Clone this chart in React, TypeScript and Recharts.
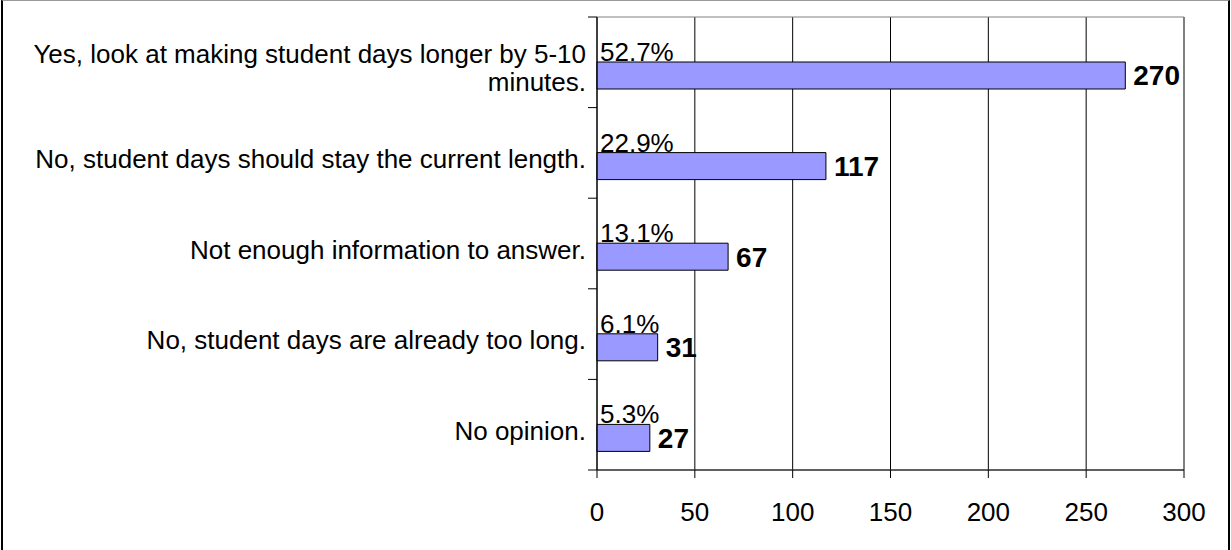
import React from 'react';
import { BarChart, Bar, XAxis, YAxis, CartesianGrid, LabelList, ReferenceArea } from 'recharts';

const categories = [
  'Yes, look at making student days longer by 5-10\nminutes.',
  'No, student days should stay the current length.',
  'Not enough information to answer.',
  'No, student days are already too long.',
  'No opinion.',
];
const counts = [270, 117, 67, 31, 27];
const percents = [52.7, 22.9, 13.1, 6.1, 5.3];
const xTicks = [0, 50, 100, 150, 200, 250, 300];

const data = categories.map((name, i) => ({ name, count: counts[i], pct: percents[i] }));

const FONT = '"Liberation Sans", Arial, Helvetica, sans-serif';
const FS = 26;

const CategoryTick = (props: any) => {
  const { x, y, payload, index, visibleTicksCount } = props;
  const lines = String(payload.value).split('\n');
  const lineH = 28;
  const off = payload.offset ?? 0;
  const isLast = index === (visibleTicksCount ?? 0) - 1;
  return (
    <g>
      <line x1={x + 2} x2={x + 11} y1={y - off} y2={y - off} stroke="#000" />
      {isLast && <line x1={x + 2} x2={x + 11} y1={y + off} y2={y + off} stroke="#000" />}
      <text x={x} y={y} textAnchor="end" fontSize={FS} fill="#000" fontFamily={FONT}>
        {lines.map((l, i) => (
          <tspan key={i} x={x} dy={i === 0 ? 15 - ((lines.length - 1) * lineH) / 2 : lineH}>
            {l}
          </tspan>
        ))}
      </text>
    </g>
  );
};

const PctLabel = (props: any) => {
  const { x, y, height, value } = props;
  return (
    <text x={x + 3} y={y + height - 1} fontSize={FS} fill="#000" fontFamily={FONT}>
      {Number(value).toFixed(1)}%
    </text>
  );
};

export default function App() {
  return (
    <div style={{ position: 'relative', width: 1231, height: 550, fontFamily: FONT }}>
      <style>{'body{margin:0;}'}</style>
      <div
        style={{
          position: 'absolute',
          left: 1,
          top: 0,
          width: 1229,
          height: 550,
          boxSizing: 'border-box',
          borderTop: '1px solid #999',
          borderLeft: '2px solid #000',
          borderRight: '2px solid #000',
        }}
      />
      <div style={{ position: 'absolute', left: 0, top: 0 }}>
        <BarChart
          width={1231}
          height={550}
          data={data}
          layout="vertical"
          margin={{ top: 17, right: 47, left: 0, bottom: 0 }}
          barGap={0}
          barSize={27}
        >
          <CartesianGrid horizontal={false} stroke="#000" strokeOpacity={1} />
          <ReferenceArea x1={0} x2={300} fill="none" stroke="#808080" strokeOpacity={1} fillOpacity={0} />
          <XAxis
            type="number"
            domain={[0, 300]}
            ticks={xTicks}
            height={80}
            tickSize={8}
            tickMargin={25}
            stroke="#000"
            tick={{ fill: '#000', fontSize: FS, fontFamily: FONT }}
            axisLine={{ stroke: '#000' }}
            tickLine={{ stroke: '#000' }}
            interval={0}
          />
          <YAxis
            type="category"
            dataKey="name"
            width={597}
            tickLine={false}
            tickSize={9}
            tickMargin={2}
            axisLine={{ stroke: '#000' }}
            tick={<CategoryTick />}
            interval={0}
          />
          <Bar dataKey="pct" fill="none" isAnimationActive={false}>
            <LabelList dataKey="pct" content={<PctLabel />} />
          </Bar>
          <Bar dataKey="count" fill="#9999FF" stroke="#000" strokeWidth={1} isAnimationActive={false}>
            <LabelList
              dataKey="count"
              position="right"
              offset={8}
              fill="#000"
              fontSize={28}
              fontWeight="bold"
              fontFamily={FONT}
            />
          </Bar>
        </BarChart>
      </div>
    </div>
  );
}
